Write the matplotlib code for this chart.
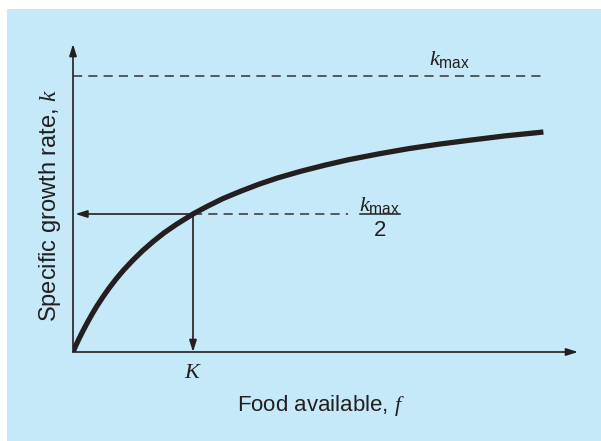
import matplotlib
matplotlib.use("Agg")
import matplotlib.pyplot as plt
from matplotlib.patches import Rectangle

plt.rcParams['mathtext.fontset'] = 'custom'
plt.rcParams['mathtext.rm'] = 'Liberation Sans'
plt.rcParams['mathtext.it'] = 'Liberation Serif:italic'
plt.rcParams['font.family'] = ['Liberation Sans', 'DejaVu Sans']

# Data (units: f in multiples of K, k in multiples of kmax)
food = [0, 0.02, 0.05, 0.08, 0.12, 0.16, 0.2, 0.25, 0.3, 0.36, 0.42, 0.5, 0.58, 0.67,
        0.76, 0.86, 1.0, 1.12, 1.25, 1.4, 1.55, 1.7, 1.9, 2.1, 2.3, 2.55, 2.8, 3.05,
        3.3, 3.6, 3.92]
growth = [0, 0.020, 0.048, 0.074, 0.107, 0.138, 0.167, 0.200, 0.231, 0.265, 0.296,
          0.333, 0.367, 0.401, 0.432, 0.462, 0.500, 0.528, 0.556, 0.583, 0.608, 0.630,
          0.655, 0.677, 0.697, 0.718, 0.737, 0.753, 0.767, 0.783, 0.797]
k_max = 1.0
K_half = 1.0
f_end = 3.92

W, H = 601, 441
fig = plt.figure(figsize=(W / 100, H / 100), dpi=100)
fig.patch.set_facecolor('white')
bg = Rectangle((7 / W, 0), 1, (H - 9) / H, transform=fig.transFigure,
               facecolor='#c6e9f9', edgecolor='none', zorder=-10)
fig.add_artist(bg)

# axes: origin at pixel (73, 352); 1 unit f = 120 px, 1 unit k = 276 px
x0, y0 = 73, 352
sx, sy = 120, 276
ax = fig.add_axes([x0 / W, (H - y0) / H, (W - x0) / W, y0 / H])
ax.set_zorder(1)
ax.set_xlim(0, (W - x0) / sx)
ax.set_ylim(0, y0 / sy)
ax.axis('off')
ax.patch.set_alpha(0)

col = '#231f20'
arrow_kw = dict(arrowstyle='-|>,head_length=0.7,head_width=0.22', color=col, lw=1.2,
                shrinkA=0, shrinkB=0)
# axes arrows
ax.annotate('', xy=(0, (y0 - 44) / sy), xytext=(0, 0), arrowprops=arrow_kw)
ax.annotate('', xy=((578 - x0) / sx, 0), xytext=(0, 0), arrowprops=arrow_kw)

# kmax dashed line
ax.plot([0, f_end], [k_max, k_max], color='#333333', lw=1.1, dashes=(6, 4))
# half dashed line
ax.plot([K_half, (348 - x0) / sx], [k_max / 2, k_max / 2], color='#333333', lw=1.1, dashes=(6, 4))
# arrows from half point
ax.annotate('', xy=(0.02, k_max / 2), xytext=(K_half, k_max / 2), arrowprops=arrow_kw)
ax.annotate('', xy=(K_half, 0), xytext=(K_half, k_max / 2), arrowprops=arrow_kw)

# curve
ax.plot(food, growth, color=col, lw=3.8, solid_capstyle='butt', solid_joinstyle='round',
        zorder=5)

fs = 16
ax.text((450 - x0) / sx, (y0 - 60) / sy, r'$k_{\mathrm{max}}$', ha='center', va='center',
        fontsize=fs, color=col)
# fraction kmax / 2
fx = (380 - x0) / sx
ax.text(fx, (y0 - 205) / sy, r'$k_{\mathrm{max}}$', ha='center', va='center', fontsize=fs, color=col)
ax.plot([(360 - x0) / sx, (400 - x0) / sx], [k_max / 2, k_max / 2], color=col, lw=1.1)
ax.text(fx, (y0 - 230) / sy, '2', ha='center', va='center', fontsize=fs, color=col)

ax.text(K_half, (y0 - 372) / sy, r'$K$', ha='center', va='center', fontsize=fs, color=col,
        clip_on=False)

fig.text(321 / W, 1 - 406 / H, r'Food available, $f$', ha='center', va='center',
         fontsize=fs, color=col)
fig.text(50 / W, 1 - 205 / H, r'Specific growth rate, $k$', ha='center', va='center',
         rotation=90, fontsize=17, color=col)

fig.savefig('out.png', dpi=100, facecolor=fig.get_facecolor())
